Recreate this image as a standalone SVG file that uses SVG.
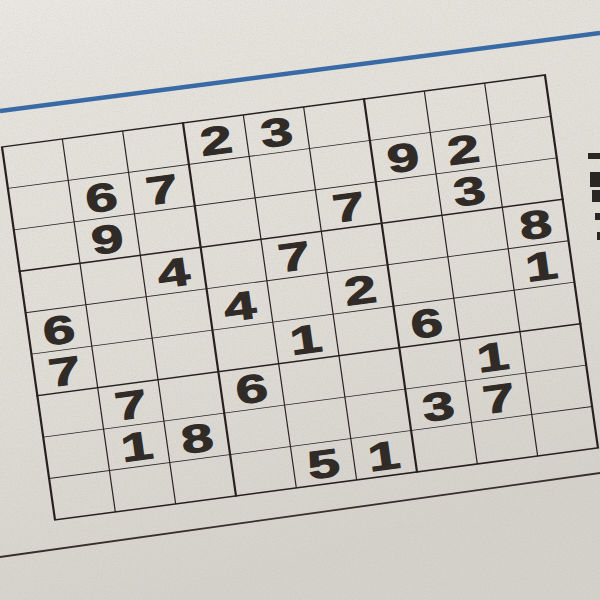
<svg xmlns="http://www.w3.org/2000/svg" width="600" height="600" viewBox="0 0 600 600">
  <defs>
    <linearGradient id="paper" x1="0" y1="0" x2="0.3" y2="1">
      <stop offset="0" stop-color="#ebe8e3"/>
      <stop offset="0.15" stop-color="#e6e3dd"/>
      <stop offset="0.6" stop-color="#e0dcd6"/>
      <stop offset="1" stop-color="#d5d1cb"/>
    </linearGradient>
    <filter id="grain" x="0" y="0" width="100%" height="100%">
      <feTurbulence type="fractalNoise" baseFrequency="0.8" numOctaves="2" seed="3"/>
      <feColorMatrix type="matrix" values="0 0 0 0 0.45  0 0 0 0 0.43  0 0 0 0 0.40  0 0 0 -1.4 0.85"/>
    </filter>
    <style>
      .thin { stroke: #2a2521; stroke-width: 2; fill: none; vector-effect: non-scaling-stroke; }
      .thick { stroke: #26211d; stroke-width: 3.6; fill: none; vector-effect: non-scaling-stroke; stroke-linecap: square; }
      .d { font-family: "Liberation Sans", Arial, sans-serif; font-weight: bold; font-size: 94px; fill: #302b27; stroke: #302b27; stroke-width: 2.5; text-anchor: middle; }
    </style>
  </defs>

  <rect width="600" height="600" fill="url(#paper)"/>
  <rect width="600" height="600" filter="url(#grain)" opacity="0.3"/>

  <!-- blue rule -->
  <line x1="0" y1="111" x2="600" y2="33" stroke="#386aa6" stroke-width="4.5"/>
  <!-- rule below puzzle -->
  <line x1="0" y1="557" x2="600" y2="473" stroke="#36302b" stroke-width="1.8"/>

  <!-- fragments of cut-off print at right edge -->
  <g id="edge-marks" fill="#2a2623">
    <rect x="588" y="153" width="12" height="6"/>
    <rect x="590" y="172" width="10" height="15"/>
    <rect x="592" y="190" width="8" height="12"/>
    <rect x="595" y="213" width="5" height="7"/>
    <rect x="597" y="232" width="3" height="8"/>
  </g>

  <g id="puzzle" transform="matrix(0.6033 -0.08 0.0589 0.4144 2 147)">
    <g id="grid-thin" class="thin">
      <path d="M0 100H900M0 200H900M0 400H900M0 500H900M0 700H900M0 800H900"/>
      <path d="M100 0V900M200 0V900M400 0V900M500 0V900M700 0V900M800 0V900"/>
    </g>
    <g id="grid-thick" class="thick">
      <path d="M0 300H900M0 600H900M300 0V900M600 0V900"/>
      <rect x="0" y="0" width="900" height="900"/>
    </g>
    <g id="digits" class="d">
      <text x="350" y="84">2</text>
      <text x="450" y="84">3</text>

      <text x="150" y="184">6</text>
      <text x="250" y="184">7</text>
      <text x="650" y="184">9</text>
      <text x="750" y="184">2</text>

      <text x="150" y="284">9</text>
      <text x="550" y="284">7</text>
      <text x="750" y="284">3</text>

      <text x="250" y="384">4</text>
      <text x="450" y="384">7</text>
      <text x="850" y="384">8</text>

      <text x="50" y="484">6</text>
      <text x="350" y="484">4</text>
      <text x="550" y="484">2</text>
      <text x="850" y="484">1</text>

      <text x="50" y="584">7</text>
      <text x="450" y="584">1</text>
      <text x="650" y="584">6</text>

      <text x="150" y="684">7</text>
      <text x="350" y="684">6</text>
      <text x="750" y="684">1</text>

      <text x="150" y="784">1</text>
      <text x="250" y="784">8</text>
      <text x="650" y="784">3</text>
      <text x="750" y="784">7</text>

      <text x="450" y="884">5</text>
      <text x="550" y="884">1</text>
    </g>
  </g>
</svg>
